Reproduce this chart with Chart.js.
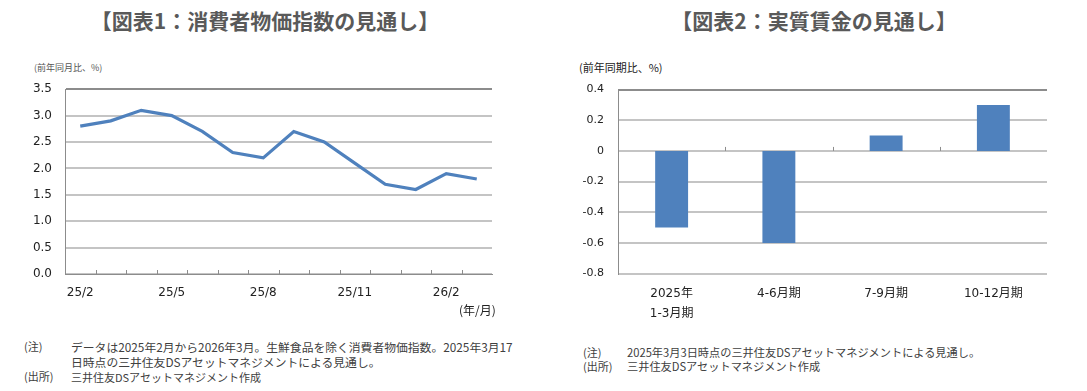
<!DOCTYPE html>
<html lang="ja">
<head>
<meta charset="utf-8">
<script src="https://cdn.jsdelivr.net/npm/chart.js@4/dist/chart.umd.min.js"></script>
<style>
  body { margin: 0; width: 1087px; height: 391px; background: #fff; position: relative; overflow: hidden;
         font-family: "Noto Sans CJK JP", "DejaVu Sans", sans-serif; color: #333; }
  .abs { position: absolute; white-space: nowrap; }
  .title { font-size: 21px; font-weight: bold; color: #595959; transform: translateX(-50%); top: 5px; }
  .note { font-size: 11px; line-height: 15px; color: #404040; }
  canvas { position: absolute; }
</style>
</head>
<body>
<div class="abs title" style="left:265px">【図表1：消費者物価指数の見通し】</div>
<div class="abs title" style="left:814px">【図表2：実質賃金の見通し】</div>

<div class="abs" style="left:34px; top:61px; font-size:9px; color:#555">(前年同月比、%)</div>
<div class="abs" style="left:579px; top:59px; font-size:11px; color:#222">(前年同期比、%)</div>

<canvas id="cpiChart" style="left:0; top:69px"></canvas>
<canvas id="wageChart" style="left:560px; top:69px"></canvas>

<div class="abs" style="left:459px; top:301px; font-size:12px; color:#222">(年/月)</div>

<div class="abs note" style="left:24px; top:339px">(注)<br><br>(出所)</div>
<div class="abs note" style="left:71px; top:339px; font-size:11.8px">データは2025年2月から2026年3月。生鮮食品を除く消費者物価指数。2025年3月17<br>日時点の三井住友DSアセットマネジメントによる見通し。<br><span style="font-size:11px">三井住友DSアセットマネジメント作成</span></div>
<div class="abs note" style="left:583px; top:345px; line-height:14px">(注)<br>(出所)</div>
<div class="abs note" style="left:627px; top:345px; line-height:14px; font-size:11.2px">2025年3月3日時点の三井住友DSアセットマネジメントによる見通し。<br>三井住友DSアセットマネジメント作成</div>

<script>
// --- data ---
const cpiMonths = ["25/2", "25/3", "25/4", "25/5", "25/6", "25/7", "25/8", "25/9", "25/10", "25/11", "25/12", "26/1", "26/2", "26/3"];
const cpiShownLabels = ["25/2", "25/5", "25/8", "25/11", "26/2"];
const cpiValues = [2.8, 2.9, 3.1, 3.0, 2.7, 2.3, 2.2, 2.7, 2.5, 2.1, 1.7, 1.6, 1.9, 1.8];

const wageQuarters = [["2025年", "1-3月期"], "4-6月期", "7-9月期", "10-12月期"];
const wageValues = [-0.5, -0.6, 0.1, 0.3];

const BLUE = "#4F81BD";
const GRID = "#c4c4c4";
const AXIS = "#8c8c8c";
const TICK_FONT = { family: "DejaVu Sans, Noto Sans CJK JP", size: 12 };

// small inward tick marks at category boundaries (Excel style)
const innerTicks = {
    id: 'innerTicks',
    afterDatasetsDraw(chart, args, opts) {
        const x = chart.scales.x, y = chart.scales.y;
        const base = opts.atZero ? y.getPixelForValue(0) : chart.chartArea.bottom;
        const half = (x.getPixelForValue(1) - x.getPixelForValue(0)) / 2;
        const ctx = chart.ctx;
        ctx.save();
        ctx.strokeStyle = AXIS; ctx.lineWidth = 1;
        ctx.beginPath();
        for (let i = 1; i < chart.data.labels.length; i++) {
            const px = Math.round(x.getPixelForValue(i) - half) + 0.5;
            ctx.moveTo(px, base); ctx.lineTo(px, base - 4);
        }
        ctx.stroke();
        ctx.restore();
    }
};

function sizeCanvas(id, w, h) {
    const c = document.getElementById(id);
    c.style.width = w + "px"; c.style.height = h + "px";
    c.width = w; c.height = h;
    return c;
}

// --- chart 1: CPI ---
new Chart(sizeCanvas("cpiChart", 520, 253), {
    type: 'line',
    data: { labels: cpiMonths, datasets: [{ data: cpiValues, borderColor: BLUE, borderWidth: 3.2, pointRadius: 0, tension: 0, fill: false }] },
    options: {
        responsive: false, animation: false, devicePixelRatio: 1,
        layout: { padding: { top: 2, right: 28, bottom: 0, left: 0 } },
        plugins: { legend: { display: false }, tooltip: { enabled: false }, innerTicks: { atZero: false } },
        scales: {
            x: {
                offset: true,
                grid: { display: false, drawTicks: false },
                border: { display: true, color: AXIS, width: 1 },
                ticks: { autoSkip: false, maxRotation: 0, padding: 12, color: "#222", font: TICK_FONT,
                    callback: (v, i) => cpiShownLabels.includes(cpiMonths[i]) ? cpiMonths[i] : null },
                afterFit: s => { s.height = 48; }
            },
            y: {
                min: 0, max: 3.5,
                ticks: { stepSize: 0.5, padding: 13, color: "#222", font: TICK_FONT, callback: v => v.toFixed(1) },
                grid: { drawTicks: false, lineWidth: 2, color: c => c.tick.value === 3.5 ? AXIS : GRID },
                border: { display: true, color: AXIS, width: 1 },
                afterFit: s => { s.width = 65; }
            }
        }
    },
    plugins: [innerTicks]
});

// --- chart 2: real wages ---
new Chart(sizeCanvas("wageChart", 527, 263), {
    type: 'bar',
    data: { labels: wageQuarters, datasets: [{ data: wageValues, backgroundColor: BLUE, categoryPercentage: 1, barPercentage: 0.307 }] },
    options: {
        responsive: false, animation: false, devicePixelRatio: 1,
        layout: { padding: { top: 3, right: 40, bottom: 0, left: 0 } },
        plugins: { legend: { display: false }, tooltip: { enabled: false }, innerTicks: { atZero: true } },
        scales: {
            x: {
                grid: { display: false, drawTicks: false },
                border: { display: false },
                ticks: { maxRotation: 0, padding: 11, color: "#222", font: { ...TICK_FONT, lineHeight: 1.6 } },
                afterFit: s => { s.height = 58.4; }
            },
            y: {
                min: -0.8, max: 0.4,
                ticks: { stepSize: 0.2, padding: 14, color: "#222", font: { ...TICK_FONT, size: 11 },
                    callback: v => Math.abs(v) < 1e-9 ? "0" : v.toFixed(1) },
                grid: { drawTicks: false, lineWidth: 2, color: c => Math.abs(c.tick.value - 0.4) < 1e-9 ? AXIS : GRID },
                border: { display: true, color: AXIS, width: 1 },
                afterFit: s => { s.width = 58; }
            }
        }
    },
    plugins: [innerTicks]
});
</script>
</body>
</html>
